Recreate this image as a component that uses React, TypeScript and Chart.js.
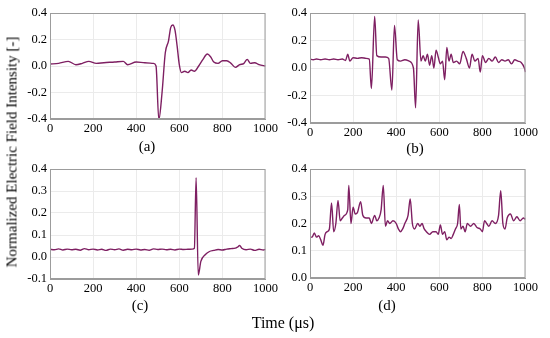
import React, { useEffect, useRef } from "react";
import { Chart, registerables } from "chart.js";

Chart.register(...registerables);

const timeA = [0, 40, 85, 120, 150, 180, 215, 250, 300, 340, 360, 400, 440, 480, 492, 505, 520, 535, 550, 560, 570, 580, 590, 600, 610, 625, 640, 655, 670, 690, 710, 730, 745, 760, 780, 800, 820, 840, 860, 880, 900, 915, 930, 950, 970, 1000];
const valueA = [0.015, 0.02, 0.035, 0.01, 0.02, 0.035, 0.02, 0.025, 0.03, 0.035, 0.01, 0.03, 0.025, 0.02, 0.0, -0.405, -0.2, 0.1, 0.19, 0.29, 0.31, 0.27, 0.15, 0.01, -0.05, -0.04, -0.05, -0.03, -0.04, 0.0, 0.05, 0.09, 0.07, 0.03, 0.02, 0.04, 0.04, 0.02, -0.01, 0.01, 0.02, 0.05, 0.02, 0.025, 0.01, 0.0];

const timeB = [0, 15, 30, 50, 70, 90, 110, 130, 150, 165, 175, 185, 200, 220, 240, 260, 275, 285, 300, 310, 330, 350, 365, 380, 392, 405, 420, 440, 460, 480, 490, 502, 515, 525, 535, 545, 555, 565, 575, 585, 595, 605, 615, 625, 635, 645, 655, 665, 680, 695, 710, 725, 740, 752, 765, 780, 790, 800, 815, 830, 845, 860, 875, 890, 905, 920, 935, 950, 965, 980, 995, 1000];
const valueB = [0.065, 0.06, 0.065, 0.06, 0.065, 0.06, 0.065, 0.06, 0.065, 0.055, 0.1, 0.05, 0.075, 0.07, 0.075, 0.07, 0.065, -0.15, 0.375, 0.09, 0.08, 0.08, 0.07, -0.16, 0.31, 0.06, 0.05, 0.06, 0.05, 0.0, -0.29, 0.35, 0.05, 0.09, 0.05, 0.1, 0.02, 0.09, 0.0, 0.13, 0.08, 0.03, 0.05, -0.085, 0.15, 0.05, 0.1, 0.04, 0.05, 0.03, 0.12, 0.07, 0.0, 0.1, 0.05, 0.07, -0.03, 0.09, 0.04, 0.07, 0.05, 0.08, 0.04, 0.06, 0.05, 0.06, 0.03, 0.06, 0.05, 0.04, 0.0, -0.03];

const timeC = [0, 20, 40, 60, 80, 100, 120, 140, 160, 180, 200, 220, 240, 260, 280, 300, 320, 340, 360, 380, 400, 420, 440, 460, 480, 500, 520, 540, 560, 580, 600, 620, 640, 660, 670, 678, 688, 700, 720, 740, 760, 780, 800, 820, 840, 860, 870, 880, 890, 910, 930, 950, 970, 990, 1000];
const valueC = [0.035, 0.033, 0.037, 0.032, 0.036, 0.033, 0.035, 0.031, 0.038, 0.033, 0.036, 0.032, 0.035, 0.03, 0.036, 0.033, 0.037, 0.031, 0.035, 0.033, 0.036, 0.032, 0.034, 0.031, 0.037, 0.034, 0.036, 0.033, 0.035, 0.032, 0.036, 0.034, 0.035, 0.036, 0.04, 0.36, -0.082, -0.02, 0.01, 0.025, 0.03, 0.034, 0.032, 0.036, 0.038, 0.04, 0.045, 0.052, 0.04, 0.033, 0.036, 0.03, 0.035, 0.032, 0.035];

const timeD = [0, 10, 20, 30, 40, 50, 60, 70, 80, 90, 100, 110, 120, 130, 140, 150, 160, 175, 180, 190, 200, 210, 220, 235, 245, 260, 275, 285, 300, 310, 320, 330, 340, 350, 360, 370, 385, 400, 410, 420, 430, 440, 455, 465, 475, 485, 500, 510, 520, 530, 540, 555, 570, 585, 595, 605, 615, 625, 635, 645, 655, 665, 675, 685, 693, 700, 710, 720, 730, 745, 760, 775, 790, 800, 810, 820, 830, 845, 860, 875, 885, 895, 905, 915, 930, 945, 960, 975, 990, 1000];
const valueD = [0.15, 0.15, 0.165, 0.15, 0.155, 0.14, 0.12, 0.16, 0.17, 0.18, 0.275, 0.17, 0.2, 0.285, 0.21, 0.22, 0.23, 0.25, 0.34, 0.2, 0.26, 0.235, 0.24, 0.28, 0.23, 0.22, 0.22, 0.2, 0.23, 0.21, 0.22, 0.25, 0.34, 0.19, 0.21, 0.2, 0.21, 0.2, 0.18, 0.17, 0.18, 0.2, 0.23, 0.29, 0.2, 0.18, 0.2, 0.19, 0.2, 0.18, 0.17, 0.16, 0.17, 0.17, 0.16, 0.195, 0.16, 0.17, 0.14, 0.15, 0.145, 0.16, 0.18, 0.2, 0.27, 0.18, 0.19, 0.17, 0.2, 0.19, 0.2, 0.185, 0.18, 0.17, 0.21, 0.2, 0.19, 0.21, 0.2, 0.23, 0.32, 0.2, 0.18, 0.22, 0.235, 0.21, 0.225, 0.21, 0.22, 0.215];

const xTicks = [0, 200, 400, 600, 800, 1000];

const LINE = "#7e1f62";
const FONT = "'Liberation Serif', 'Times New Roman', serif";

Chart.defaults.font.family = FONT;
Chart.defaults.color = "#000";

type PanelProps = {
  times: number[];
  values: number[];
  yMin: number;
  yMax: number;
  yStep: number;
  box: { left: number; top: number; width: number; height: number };
  padTop: number;
  padRight: number;
  yWidth: number;
  xHeight: number;
};

function Panel(p: PanelProps) {
  const ref = useRef<HTMLCanvasElement | null>(null);
  useEffect(() => {
    if (!ref.current) return;
    const data = p.times.map((t, i) => ({ x: t, y: p.values[i] }));
    const tickFont = { family: FONT, size: 12.5 };
    const chart = new Chart(ref.current, {
      type: "line",
      data: {
        datasets: [
          {
            data,
            borderColor: LINE,
            borderWidth: 1.4,
            pointRadius: 0,
            cubicInterpolationMode: "monotone",
            fill: false,
          },
        ],
      },
      options: {
        animation: false,
        responsive: false,
        maintainAspectRatio: false,
        plugins: { legend: { display: false }, tooltip: { enabled: false } },
        layout: { padding: { top: p.padTop, right: p.padRight, left: 0, bottom: 0 } },
        scales: {
          x: {
            type: "linear",
            min: 0,
            max: 1000,
            afterBuildTicks: (axis: any) => {
              axis.ticks = xTicks.map((v) => ({ value: v }));
            },
            afterFit: (axis: any) => {
              axis.height = p.xHeight;
            },
            grid: { color: "#ebebeb", drawTicks: false, lineWidth: 1 },
            border: { color: "#9c9c9c", width: 1 },
            ticks: {
              color: "#000",
              font: tickFont,
              padding: 2,
              maxRotation: 0,
              autoSkip: false,
              callback: (v: any) => String(v),
            },
          },
          y: {
            type: "linear",
            min: p.yMin,
            max: p.yMax,
            afterFit: (axis: any) => {
              axis.width = p.yWidth;
            },
            grid: { color: "#ebebeb", drawTicks: false, lineWidth: 1 },
            border: { color: "#9c9c9c", width: 1 },
            ticks: {
              stepSize: p.yStep,
              color: "#000",
              font: tickFont,
              padding: 3,
              callback: (v: any) => Number(v).toFixed(1),
            },
          },
        },
      },
      plugins: [
        {
          id: "frame",
          afterDraw(c: any) {
            const { ctx, chartArea: a } = c;
            ctx.save();
            ctx.strokeStyle = "#9c9c9c";
            ctx.lineWidth = 1;
            ctx.strokeRect(a.left + 0.5, a.top + 0.5, a.right - a.left - 1, a.bottom - a.top - 1);
            ctx.restore();
          },
        },
      ],
    } as any);
    return () => {
      chart.destroy();
    };
  }, []);
  return (
    <div style={{ position: "absolute", left: p.box.left, top: p.box.top, width: p.box.width, height: p.box.height }}>
      <canvas ref={ref} width={p.box.width} height={p.box.height} style={{ width: p.box.width, height: p.box.height }} />
    </div>
  );
}

const label = (text: string, x: number, y: number, size: number) => (
  <div
    style={{
      position: "absolute",
      left: x,
      top: y,
      transform: "translate(-50%, -50%)",
      fontFamily: FONT,
      fontSize: size,
      color: "#000",
      whiteSpace: "nowrap",
    }}
  >
    {text}
  </div>
);

export default function App() {
  return (
    <div style={{ position: "fixed", left: 0, top: 0, width: 550, height: 338, background: "#fff", overflow: "hidden" }}>
      <Panel times={timeA} values={valueA} yMin={-0.4} yMax={0.4} yStep={0.2}
        box={{ left: 15, top: 0, width: 265, height: 140 }} padTop={13} padRight={10} yWidth={35} xHeight={21} />
      <Panel times={timeB} values={valueB} yMin={-0.4} yMax={0.4} yStep={0.2}
        box={{ left: 275, top: 0, width: 265, height: 145 }} padTop={13} padRight={9} yWidth={35} xHeight={22} />
      <Panel times={timeC} values={valueC} yMin={-0.1} yMax={0.4} yStep={0.1}
        box={{ left: 15, top: 150, width: 265, height: 150 }} padTop={19} padRight={10} yWidth={35} xHeight={21} />
      <Panel times={timeD} values={valueD} yMin={0} yMax={0.4} yStep={0.1}
        box={{ left: 275, top: 150, width: 265, height: 150 }} padTop={19} padRight={9} yWidth={35} xHeight={22} />
      {label("(a)", 147, 146, 15)}
      {label("(b)", 415, 148, 15)}
      {label("(c)", 140, 305, 15)}
      {label("(d)", 387, 305, 15)}
      {label("Time (μs)", 283, 323, 16)}
      <div
        style={{
          position: "absolute",
          left: 12,
          top: 152,
          transform: "translate(-50%, -50%) rotate(-90deg)",
          fontFamily: FONT,
          fontSize: 15,
          color: "#000",
          whiteSpace: "nowrap",
        }}
      >
        Normalized Electric Field Intensity [-]
      </div>
    </div>
  );
}
